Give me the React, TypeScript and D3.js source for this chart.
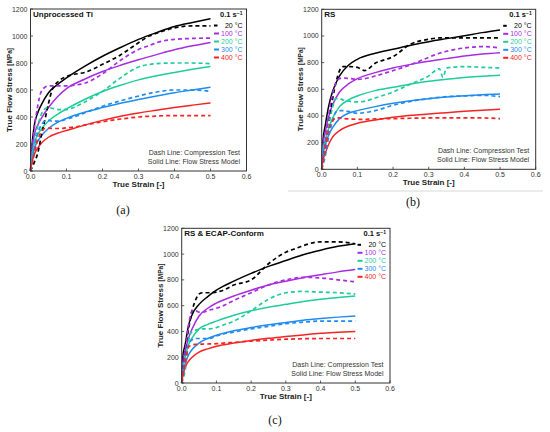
import * as d3 from 'd3';

// strain grids shared by the series
const modelStrain = [0, 0.003, 0.01, 0.02, 0.03, 0.05, 0.075, 0.1, 0.15, 0.2, 0.25, 0.3, 0.35, 0.4, 0.45, 0.5];
const testStrain = [0, 0.01, 0.02, 0.03, 0.04, 0.05, 0.06, 0.08, 0.1, 0.12, 0.15, 0.2, 0.25, 0.3, 0.33, 0.34, 0.35, 0.4, 0.45, 0.5];

const temps = ['20 °C', '100 °C', '200 °C', '300 °C', '400 °C'];
const colours = ['#000000', '#a82de0', '#1fcc9b', '#1f8cf0', '#f52424'];
const xTicks = [0, 0.1, 0.2, 0.3, 0.4, 0.5, 0.6];
const yTicks = [0, 200, 400, 600, 800, 1000, 1200];

// (a) Unprocessed Ti
const modelA = [
    [0, 150, 330, 430, 490, 580, 640, 690, 775, 850, 915, 975, 1025, 1070, 1100, 1128],
    [0, 120, 260, 340, 390, 470, 550, 610, 680, 737, 783, 824, 862, 898, 927, 952],
    [0, 90, 200, 270, 310, 370, 420, 460, 530, 589, 635, 675, 705, 730, 753, 774],
    [0, 70, 160, 220, 260, 315, 360, 390, 435, 470, 502, 530, 556, 580, 600, 620],
    [0, 50, 120, 170, 205, 250, 280, 300, 340, 375, 405, 430, 450, 470, 488, 505],
];
const testA = [
    [0, 60, 130, 260, 380, 500, 600, 670, 700, 715, 730, 790, 860, 950, 1000, 1010, 1020, 1060, 1075, 1075],
    [0, 300, 480, 590, 620, 630, 630, 630, 630, 635, 650, 720, 820, 900, 930, 940, 950, 975, 982, 985],
    [0, 200, 330, 420, 460, 470, 465, 455, 455, 470, 510, 590, 690, 770, 790, 793, 796, 800, 800, 795],
    [0, 150, 280, 340, 370, 375, 370, 370, 385, 400, 430, 480, 520, 555, 575, 580, 585, 600, 600, 590],
    [0, 120, 230, 290, 315, 318, 315, 315, 320, 325, 340, 365, 385, 400, 405, 405, 408, 410, 410, 410],
];

// (b) RS
const modelB = [
    [0, 200, 330, 480, 580, 700, 780, 825, 870, 900, 930, 957, 980, 1002, 1025, 1045],
    [0, 170, 280, 400, 480, 580, 640, 680, 725, 760, 787, 810, 830, 850, 865, 875],
    [0, 130, 220, 310, 380, 470, 520, 550, 590, 615, 640, 660, 675, 688, 697, 705],
    [0, 100, 180, 260, 310, 380, 420, 440, 470, 495, 515, 530, 542, 552, 560, 565],
    [0, 60, 120, 190, 240, 290, 325, 345, 370, 390, 405, 415, 425, 435, 443, 450],
];
const testB = [
    [0, 180, 350, 520, 650, 740, 770, 770, 765, 740, 795, 845, 940, 975, 985, 985, 985, 985, 985, 985],
    [0, 200, 420, 560, 650, 680, 685, 680, 675, 680, 700, 740, 785, 840, 870, 878, 885, 910, 920, 910],
    [0, 150, 330, 460, 530, 530, 520, 510, 505, 510, 535, 580, 640, 700, 755, 690, 760, 770, 765, 760],
    [0, 100, 250, 360, 430, 440, 440, 430, 420, 425, 440, 480, 510, 530, 540, 542, 545, 550, 555, 545],
    [0, 150, 300, 360, 385, 385, 380, 378, 375, 375, 378, 380, 383, 385, 385, 385, 385, 385, 385, 380],
];

// (c) RS & ECAP-Conform
const modelC = [
    [0, 200, 300, 450, 530, 610, 670, 720, 790, 850, 905, 950, 995, 1030, 1060, 1080],
    [0, 150, 250, 350, 420, 520, 580, 620, 675, 720, 760, 790, 817, 840, 862, 880],
    [0, 120, 200, 300, 350, 420, 455, 480, 525, 560, 587, 610, 632, 650, 663, 675],
    [0, 80, 150, 220, 260, 310, 345, 370, 405, 430, 452, 470, 487, 500, 511, 520],
    [0, 50, 120, 170, 200, 240, 265, 285, 310, 330, 347, 360, 373, 385, 393, 400],
];
const testC = [
    [0, 250, 420, 560, 644, 690, 700, 700, 705, 720, 760, 800, 925, 1015, 1045, 1055, 1065, 1095, 1095, 1080],
    [0, 250, 450, 560, 560, 550, 550, 565, 580, 600, 640, 700, 760, 800, 815, 818, 820, 815, 800, 785],
    [0, 100, 330, 400, 410, 415, 420, 420, 430, 450, 480, 560, 650, 700, 708, 710, 710, 705, 700, 690],
    [0, 150, 300, 335, 345, 345, 345, 345, 365, 380, 395, 420, 440, 460, 468, 470, 472, 480, 480, 480],
    [0, 150, 280, 295, 300, 300, 302, 303, 305, 310, 315, 325, 333, 340, 342, 343, 344, 345, 345, 345],
];

const font = '"Liberation Sans", Arial, sans-serif';

type PanelProps = {
    left: number, right: number, top: number, bottom: number,
    title: string, model: number[][], test: number[][],
    tag: string, tagX: number, tagY: number
}

function Panel({ left, right, top, bottom, title, model, test, tag, tagX, tagY }: PanelProps) {
    const x = d3.scaleLinear().domain([0, 0.6]).range([left, right]);
    const y = d3.scaleLinear().domain([0, 1200]).range([bottom, top]);
    const line = d3.line<[number, number]>()
        .x(d => x(d[0]))
        .y(d => y(d[1]))
        .curve(d3.curveMonotoneX);
    const midY = (top + bottom) / 2;

    return (
        <g fontFamily={font}>
            {/* curves */}
            {model.map((vals, i) => (
                <path key={'m' + i} d={line(vals.map((v, j) => [modelStrain[j], v] as [number, number]))!}
                    fill="none" stroke={colours[i]} strokeWidth={1.5} />
            ))}
            {test.map((vals, i) => (
                <path key={'t' + i} d={line(vals.map((v, j) => [testStrain[j], v] as [number, number]))!}
                    fill="none" stroke={colours[i]} strokeWidth={1.7} strokeDasharray="4,3" />
            ))}

            <rect x={left} y={top} width={right - left} height={bottom - top} fill="none" stroke="#333" strokeWidth={1} />

            {/* x axis */}
            {xTicks.map(t => (
                <g key={'x' + t}>
                    <line x1={x(t)} x2={x(t)} y1={bottom} y2={bottom - 2.5} stroke="#333" strokeWidth={0.8} />
                    <text x={x(t)} y={bottom + 8} fontSize={7} fill="#333" textAnchor="middle">{t.toFixed(1)}</text>
                </g>
            ))}
            <text x={(left + right) / 2} y={bottom + 16} fontSize={8} fontWeight="bold" fill="#222" textAnchor="middle">
                True Strain [-]
            </text>

            {/* y axis */}
            {yTicks.map(t => (
                <g key={'y' + t}>
                    <line x1={left} x2={left + 2.5} y1={y(t)} y2={y(t)} stroke="#333" strokeWidth={0.8} />
                    <text x={left - 3} y={y(t) + 2.5} fontSize={7} fill="#333" textAnchor="end">{t}</text>
                </g>
            ))}
            <text transform={`translate(${left - 19},${midY}) rotate(-90)`} fontSize={8} fontWeight="bold" fill="#222" textAnchor="middle">
                True Flow Stress <tspan fontSize={6.5}>[MPa]</tspan>
            </text>

            {/* title */}
            <text x={left + 2.5} y={top + 8} fontSize={8} fontWeight="bold" fill="#111">{title}</text>

            {/* legend */}
            <text x={right - 4} y={top + 8} fontSize={7.5} fontWeight="bold" fill="#111" textAnchor="end">
                0.1 s<tspan dy={-2.5} fontSize={5}>−1</tspan>
            </text>
            {temps.map((t, i) => (
                <g key={'l' + i}>
                    <rect x={right - 32.5} y={top + 15.5 + i * 8} width={i === 0 ? 3.5 : 5} height={2} fill={colours[i]} />
                    <text x={right - 4} y={top + 18.5 + i * 8} fontSize={7} fill={colours[i]} textAnchor="end">{t}</text>
                </g>
            ))}

            {/* notes */}
            <text x={right - 6.5} y={bottom - 16} fontSize={7} fill="#333" textAnchor="end">Dash Line: Compression Test</text>
            <text x={right - 6.5} y={bottom - 7} fontSize={7} fill="#333" textAnchor="end">Solid Line: Flow Stress Model</text>

            <text x={tagX} y={tagY} fontSize={12} fontFamily='"Liberation Serif", serif' fill="#111" textAnchor="middle">{tag}</text>
        </g>
    );
}

export default function App() {
    return (
        <svg width={550} height={432} style={{ position: 'absolute', left: 0, top: 0, background: '#fff' }}>
            <rect width={550} height={432} fill="#fff" />
            <Panel left={30.5} right={246.5} top={9} bottom={171} title="Unprocessed Ti"
                model={modelA} test={testA} tag="(a)" tagX={123} tagY={214} />
            <line x1={288} x2={543} y1={191} y2={191} stroke="#d8d8d8" strokeWidth={1} />
            <Panel left={321.7} right={535.7} top={9.3} bottom={169.3} title="RS"
                model={modelB} test={testB} tag="(b)" tagX={413} tagY={206} />
            <Panel left={181.7} right={390} top={228.3} bottom={383} title="RS & ECAP-Conform"
                model={modelC} test={testC} tag="(c)" tagX={275} tagY={424} />
        </svg>
    );
}
